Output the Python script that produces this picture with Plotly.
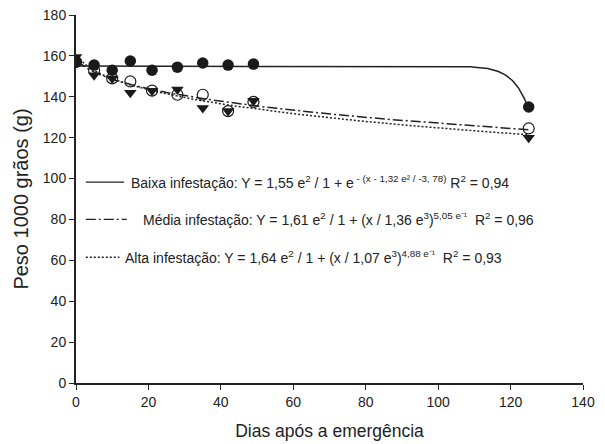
import numpy as np
import plotly.graph_objects as go

# ---- data ----
days = [0, 5, 10, 15, 21, 28, 35, 42, 49, 125]
baixa = [157, 155.5, 153, 157.5, 153, 154.5, 156.5, 155.5, 156, 135]
tri_series = [159.5, 150.5, 149, 142, 143, 143.5, 134.5, 133, 138, 120]
open_series = [157, 153, 149, 147.5, 143, 141, 141, 133, 137.5, 124.5]

# fitted-equation parameters as printed in the chart
baixa_par = [1.55e2, 1.32e2, -3.78]        # a / (1 + exp(-(x - b)/c))
media_par = [1.61e2, 1.36e3, 5.05e-1]      # a / (1 + (x/b)^c)
alta_par = [1.64e2, 1.07e3, 4.88e-1]

x_ticks = [0, 20, 40, 60, 80, 100, 120, 140]
y_ticks = [0, 20, 40, 60, 80, 100, 120, 140, 160, 180]

xb = np.linspace(0, 125, 600)
xp = np.linspace(0.5, 125, 600)
yb = baixa_par[0] / (1 + np.exp(-(xb - baixa_par[1]) / baixa_par[2]))
ym = media_par[0] / (1 + (xp / media_par[1]) ** media_par[2])
ya = alta_par[0] / (1 + (xp / alta_par[1]) ** alta_par[2])

FONT = "Liberation Sans, Arial, sans-serif"
DASHDOT = "10px,3px,2px,3px"
fig = go.Figure()
fig.add_trace(go.Scatter(x=xb, y=yb, mode="lines", line=dict(color="#222", width=1.5)))
fig.add_trace(go.Scatter(x=xp, y=ym, mode="lines", line=dict(color="#222", width=1.5, dash=DASHDOT)))
fig.add_trace(go.Scatter(x=xp, y=ya, mode="lines", line=dict(color="#222", width=1.5, dash="2px,2px")))

fig.add_trace(go.Scatter(x=days, y=baixa, mode="markers",
                         marker=dict(symbol="circle", size=11.5, color="#1a1a1a")))
fig.add_trace(go.Scatter(x=days, y=tri_series, mode="markers",
                         marker=dict(symbol="triangle-down", size=11, color="#1a1a1a")))
fig.add_trace(go.Scatter(x=days, y=open_series, mode="markers",
                         marker=dict(symbol="circle-open", size=11, color="#1a1a1a",
                                     line=dict(width=1.2))))

# legend samples + equations
rows = [
    (98.3, "solid", 13.3, 14.6,
     "Baixa infestação: Y = 1,55 e<sup>2</sup> / 1 + e<sup> - (x - 1,32 e² / -3, 78)</sup> R<sup>2</sup> = 0,94"),
    (80, DASHDOT, 14.0, 17.9,
     "Média infestação: Y = 1,61 e<sup>2</sup> / 1 + (x / 1,36 e<sup>3</sup>)<sup>5,05 e⁻¹</sup>  R<sup>2</sup> = 0,96"),
    (61.5, "2px,2px", 12.0, 13.0,
     "Alta infestação: Y = 1,64 e<sup>2</sup> / 1 + (x / 1,07 e<sup>3</sup>)<sup>4,88 e⁻¹</sup>  R<sup>2</sup> = 0,93"),
]
for yv, dash, x1, xt, txt in rows:
    fig.add_shape(type="line", x0=2.7, x1=x1, y0=yv, y1=yv, xref="x", yref="y",
                  line=dict(color="#222", width=1.3, dash=dash))
    fig.add_annotation(x=xt, y=yv, xref="x", yref="y", text=txt, showarrow=False,
                       xanchor="left", yanchor="middle",
                       font=dict(family=FONT, size=14, color="#222"))

fig.update_layout(
    width=605, height=444,
    margin=dict(l=76, r=22, t=15, b=61),
    paper_bgcolor="white", plot_bgcolor="white",
    showlegend=False,
    font=dict(family=FONT, size=14, color="#222"),
)
fig.update_xaxes(range=[0, 140], tickvals=x_ticks, showgrid=False, zeroline=False,
                 showline=True, linecolor="#222", linewidth=2, ticks="outside",
                 ticklen=5, tickcolor="#222", tickfont=dict(size=14), automargin=False,
                 title=dict(text="Dias após a emergência", font=dict(size=17.5), standoff=16))
fig.update_yaxes(range=[0, 180], tickvals=y_ticks, showgrid=False, zeroline=False,
                 showline=True, linecolor="#222", linewidth=2, ticks="outside",
                 ticklen=5, tickcolor="#222", tickfont=dict(size=14), automargin=False,
                 title=dict(text="Peso 1000 grãos (g)", font=dict(size=20), standoff=9))

fig.write_html("out.html", config={"displayModeBar": False},
               post_script="document.body.style.margin='0';document.body.style.overflow='hidden';")
